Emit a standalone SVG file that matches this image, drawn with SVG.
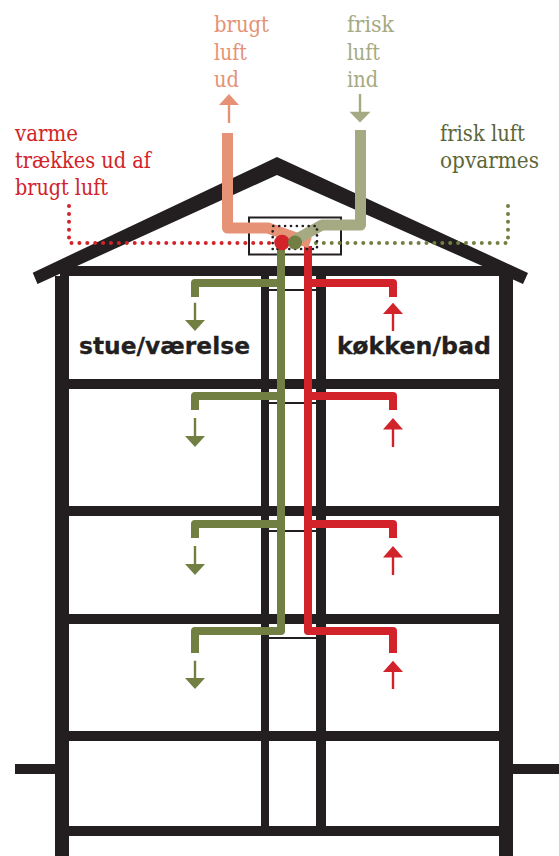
<svg xmlns="http://www.w3.org/2000/svg" width="559" height="856" viewBox="0 0 559 856">
<style>
.w{fill:none;stroke:#231f20;stroke-width:10}
.t{font-family:"DejaVu Serif Condensed","DejaVu Serif","Liberation Serif",serif;font-size:22.5px}
.b{font-family:"DejaVu Sans","Liberation Sans",sans-serif;font-weight:bold;font-size:23.5px;fill:#231f20;stroke:#231f20;stroke-width:.3}
.p{fill:none;stroke-linejoin:round}
.o{stroke:#727f42;stroke-width:8}
.r{stroke:#d2232a;stroke-width:8}
.d{fill:none;stroke-linecap:round;stroke-width:4;stroke-dasharray:0 7.9}
.k{fill:none;stroke:#231f20;stroke-linecap:round;stroke-width:2.7;stroke-dasharray:0 5.9}
.as{stroke-width:2.4;fill:none}
</style>
<g id="building">
<path class="w" d="M62 276V856" style="stroke-width:14"/>
<path class="w" d="M506 276V856" style="stroke-width:14"/>
<path class="w" d="M265 271V836" style="stroke-width:8"/>
<path class="w" d="M321 271V836"/>
<path class="w" d="M60 271H508M62 384H506M62 511H506M62 619H506M62 736H506M62 831H506"/>
<path class="w" d="M15 769H55M513 769H559"/>
<path class="w" d="M269 290H316M269 403H316M269 531H316M269 638H316" style="stroke-width:2"/>
<path fill="#231f20" d="M32.700 272.700L277 157L528 273L523 284L277 175L37.500 284Z"/>
</g>
<g id="unit">
<rect x="249" y="217.500" width="92" height="37" fill="none" stroke="#231f20" stroke-width="2"/>
</g>
<g id="connectors">
<path class="p o" d="M281 243V631H195V653M281 283H195V297M281 396H195V410M281 524H195V538" />
<path class="p r" d="M308 246V631H393V653M308 283H393V297M308 396H393V410M308 524H393V538"/>
<path class="p" stroke="#e59277" stroke-width="11" d="M227.500 133V228H268L310 243"/>
<path class="p" stroke="#a5aa82" stroke-width="11" d="M360.500 130V225H322L295 240"/>
<path class="d" stroke="#d2232a" d="M69 206V243H274"/>
<path class="d" stroke="#727f42" d="M508 206V243H310"/>
<path class="k" d="M272.700 249V226H317V249H272.700"/>
<path class="as" stroke="#e59277" d="M229 123V104"/><path fill="#e59277" d="M229 94L239 105H219Z"/>
<path class="as" stroke="#a5aa82" d="M360 94V113"/><path fill="#a5aa82" d="M360 122.500L349.500 111.700H370.500Z"/>
<path class="as" stroke="#727f42" d="M195 302.700V321M195 418V437M195 546V565M195 660.700V679"/>
<path fill="#727f42" d="M195 331L185 320H205ZM195 447L185 436H205ZM195 575L185 564H205ZM195 689L185 678H205Z"/>
<path class="as" stroke="#d2232a" d="M393 313V331M393 429V447M393 557V575M393 671V689"/>
<path fill="#d2232a" d="M393 302.700L403 314H383ZM393 418L403 429.500H383ZM393 546L403 557.500H383ZM393 660.700L403 672H383Z"/>
</g>
<g id="exchanger">
<circle cx="282" cy="242.500" r="7.800" fill="#d2232a"/>
<circle cx="295" cy="242.500" r="7" fill="#727f42"/>
</g>
<g id="label-brugt-luft-ud" class="t" fill="#e59277">
<text x="214" y="32" textLength="55" lengthAdjust="spacingAndGlyphs">brugt</text>
<text x="214" y="59.500" textLength="33" lengthAdjust="spacingAndGlyphs">luft</text>
<text x="214" y="87" textLength="25" lengthAdjust="spacingAndGlyphs">ud</text>
</g>
<g id="label-frisk-luft-ind" class="t" fill="#a5aa82">
<text x="347" y="32" textLength="47" lengthAdjust="spacingAndGlyphs">frisk</text>
<text x="347" y="59.500" textLength="33" lengthAdjust="spacingAndGlyphs">luft</text>
<text x="347" y="87" textLength="31" lengthAdjust="spacingAndGlyphs">ind</text>
</g>
<g id="label-varme" class="t" fill="#d2232a">
<text x="15" y="141" textLength="63" lengthAdjust="spacingAndGlyphs">varme</text>
<text x="15" y="168" textLength="136" lengthAdjust="spacingAndGlyphs">trækkes ud af</text>
<text x="15" y="195" textLength="93" lengthAdjust="spacingAndGlyphs">brugt luft</text>
</g>
<g id="label-opvarmes" class="t" fill="#5c6638">
<text x="440" y="141" textLength="85" lengthAdjust="spacingAndGlyphs">frisk luft</text>
<text x="440" y="168" textLength="99" lengthAdjust="spacingAndGlyphs">opvarmes</text>
</g>
<g id="room-labels" class="b">
<text x="79" y="353.500" textLength="171" lengthAdjust="spacingAndGlyphs">stue/værelse</text>
<text x="337" y="353.500" textLength="154" lengthAdjust="spacingAndGlyphs">køkken/bad</text>
</g>
</svg>
